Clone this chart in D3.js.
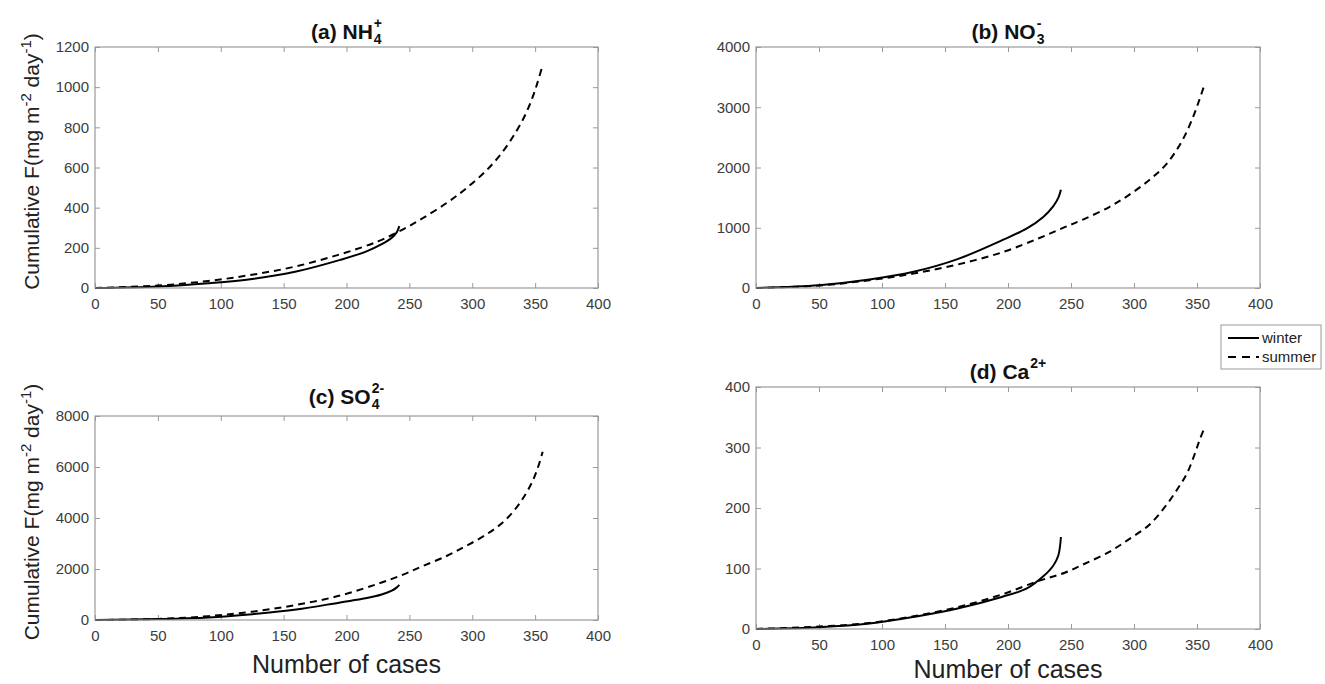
<!DOCTYPE html>
<html>
<head>
<meta charset="utf-8">
<script src="https://cdn.jsdelivr.net/npm/d3@7"></script>
<style>
body { margin: 0; background: #fff; }
svg { display: block; }
text { font-family: "Liberation Sans", Arial, sans-serif; }
</style>
</head>
<body>
<svg id="chart" width="1325" height="684"></svg>
<script>
// number of cases at which the curves were read
var winterX = [0, 50, 90, 125, 160, 195, 215, 228, 236, 240, 242];
var summerX = [0, 50, 90, 125, 160, 195, 225, 245, 260, 280, 295, 312, 325, 335, 342, 348, 352, 356];

// cumulative F (mg m-2 day-1)
var nh4Winter = [0, 8, 24, 45, 82, 140, 180, 218, 250, 278, 308];
var nh4Summer = [0, 12, 35, 66, 108, 168, 232, 292, 345, 425, 495, 590, 685, 780, 860, 950, 1025, 1110];
var no3Winter = [0, 45, 140, 270, 480, 790, 990, 1180, 1360, 1500, 1630];
var no3Summer = [0, 40, 130, 240, 390, 590, 830, 1010, 1140, 1340, 1530, 1790, 2040, 2330, 2600, 2900, 3130, 3380];
var so4Winter = [0, 35, 100, 230, 410, 690, 850, 1000, 1150, 1280, 1380];
var so4Summer = [0, 40, 150, 328, 590, 960, 1420, 1780, 2100, 2520, 2900, 3380, 3860, 4400, 4900, 5450, 5950, 6600];
var caWinter = [0, 3, 9, 20, 34, 53, 67, 87, 105, 122, 152];
var caSummer = [0, 4, 10, 21, 36, 57, 80, 93, 107, 127, 147, 172, 203, 233, 257, 288, 312, 333];

var xTicks = [0, 50, 100, 150, 200, 250, 300, 350, 400];
var yTicksA = [0, 200, 400, 600, 800, 1000, 1200];
var yTicksB = [0, 1000, 2000, 3000, 4000];
var yTicksC = [0, 2000, 4000, 6000, 8000];
var yTicksD = [0, 100, 200, 300, 400];

var seriesNames = ["winter", "summer"];

var panels = [
  { title: "(a) NH", sup: "+", sub: "4", winter: nh4Winter, summer: nh4Summer, yTicks: yTicksA,
    left: 95, right: 598, top: 47, bottom: 288, titleGap: 8, ylabel: true, xlabel: false },
  { title: "(b) NO", sup: "-", sub: "3", winter: no3Winter, summer: no3Summer, yTicks: yTicksB,
    left: 756, right: 1260, top: 47, bottom: 288, titleGap: 8, ylabel: false, xlabel: false },
  { title: "(c) SO", sup: "2-", sub: "4", winter: so4Winter, summer: so4Summer, yTicks: yTicksC,
    left: 95, right: 598, top: 416, bottom: 620, titleGap: 12, ylabel: true, xlabel: true, xlabelGap: 53 },
  { title: "(d) Ca", sup: "2+", sub: "", winter: caWinter, summer: caSummer, yTicks: yTicksD,
    left: 756, right: 1260, top: 387, bottom: 629, titleGap: 8, ylabel: false, xlabel: true, xlabelGap: 49 }
];

var svg = d3.select("#chart");
var boxColor = "#9a9a9a";
var tickText = "#3c3c3c";
var fmt = d3.format("d");

panels.forEach(function (p) {
  var x = d3.scaleLinear().domain([0, 400]).range([p.left, p.right]);
  var yMax = p.yTicks[p.yTicks.length - 1];
  var y = d3.scaleLinear().domain([0, yMax]).range([p.bottom, p.top]);
  var g = svg.append("g");

  // ticks pointing inward on all four sides
  var axB = g.append("g").attr("transform", "translate(0," + p.bottom + ")")
    .call(d3.axisBottom(x).tickValues(xTicks).tickFormat(fmt).tickSizeInner(-5).tickSizeOuter(0).tickPadding(10));
  var axT = g.append("g").attr("transform", "translate(0," + p.top + ")")
    .call(d3.axisTop(x).tickValues(xTicks).tickSizeInner(-5).tickSizeOuter(0).tickFormat(""));
  var axL = g.append("g").attr("transform", "translate(" + p.left + ",0)")
    .call(d3.axisLeft(y).tickValues(p.yTicks).tickFormat(fmt).tickSizeInner(-5).tickSizeOuter(0).tickPadding(6));
  var axR = g.append("g").attr("transform", "translate(" + p.right + ",0)")
    .call(d3.axisRight(y).tickValues(p.yTicks).tickSizeInner(-5).tickSizeOuter(0).tickFormat(""));
  [axB, axT, axL, axR].forEach(function (a) {
    a.select(".domain").remove();
    a.selectAll("line").attr("stroke", boxColor);
    a.selectAll("text").attr("fill", tickText).style("font-size", "15px");
  });

  var line = d3.line().curve(d3.curveCatmullRom.alpha(0.5))
    .x(function (d) { return x(d[0]); })
    .y(function (d) { return y(d[1]); });

  g.append("path")
    .attr("d", line(d3.zip(summerX, p.summer)))
    .attr("fill", "none").attr("stroke", "#000").attr("stroke-width", 2)
    .attr("stroke-dasharray", "7,5");
  g.append("path")
    .attr("d", line(d3.zip(winterX, p.winter)))
    .attr("fill", "none").attr("stroke", "#000").attr("stroke-width", 2);

  g.append("rect")
    .attr("x", p.left).attr("y", p.top)
    .attr("width", p.right - p.left).attr("height", p.bottom - p.top)
    .attr("fill", "none").attr("stroke", boxColor).attr("stroke-width", 1.2);

  // title with stacked super/subscript
  var cx = (p.left + p.right) / 2, ty = p.top - p.titleGap;
  var t = g.append("text").attr("y", ty).attr("font-weight", "bold")
    .style("font-size", "21px").attr("fill", "#111").text(p.title);
  var s1 = g.append("text").attr("y", ty - 11).attr("font-weight", "bold")
    .style("font-size", "14px").attr("fill", "#111").text(p.sup);
  var s2 = g.append("text").attr("y", ty + 5).attr("font-weight", "bold")
    .style("font-size", "14px").attr("fill", "#111").text(p.sub);
  var w1 = t.node().getComputedTextLength();
  var w2 = Math.max(s1.node().getComputedTextLength(), s2.node().getComputedTextLength());
  var x0 = cx - (w1 + w2 + 1) / 2;
  t.attr("x", x0);
  s1.attr("x", x0 + w1 + 1);
  s2.attr("x", x0 + w1 + 1);

  if (p.ylabel) {
    var cy = (p.top + p.bottom) / 2 - 6;
    var yl = g.append("text")
      .attr("transform", "translate(39," + cy + ") rotate(-90)")
      .attr("text-anchor", "middle").attr("fill", "#222").style("font-size", "21px");
    yl.append("tspan").text("Cumulative F(mg m");
    yl.append("tspan").attr("dy", -8).style("font-size", "15px").text("-2");
    yl.append("tspan").attr("dy", 8).text(" day");
    yl.append("tspan").attr("dy", -8).style("font-size", "15px").text("-1");
    yl.append("tspan").attr("dy", 8).text(")");
  }
  if (p.xlabel) {
    g.append("text").attr("x", cx).attr("y", p.bottom + p.xlabelGap)
      .attr("text-anchor", "middle").attr("fill", "#222").style("font-size", "25px")
      .text("Number of cases");
  }
});

// legend
var lg = svg.append("g").attr("transform", "translate(1221,325)");
lg.append("rect").attr("width", 100).attr("height", 44)
  .attr("fill", "#fff").attr("stroke", boxColor).attr("stroke-width", 1);
seriesNames.forEach(function (name, i) {
  var yy = 13 + i * 19;
  lg.append("line").attr("x1", 7).attr("x2", 38).attr("y1", yy).attr("y2", yy)
    .attr("stroke", "#000").attr("stroke-width", 2)
    .attr("stroke-dasharray", i === 1 ? "8,6" : null);
  lg.append("text").attr("x", 41).attr("y", yy + 5)
    .attr("fill", "#222").style("font-size", "15px").text(name);
});
</script>
</body>
</html>
